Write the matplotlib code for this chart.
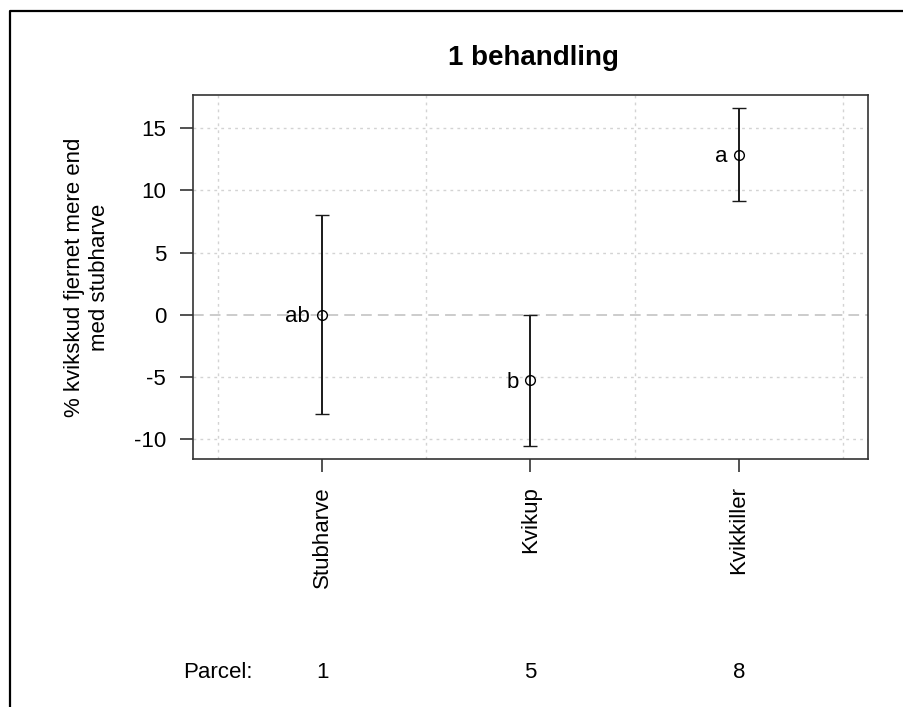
import matplotlib.pyplot as plt
from matplotlib.lines import Line2D
import matplotlib.transforms as mtransforms

plt.rcParams['font.family'] = ['Liberation Sans', 'DejaVu Sans']

# data
behandlinger = ['Stubharve', 'Kvikup', 'Kvikkiller']
middel = [0.0, -5.3, 12.9]
fejl = [8.0, 5.28, 3.75]
bogstaver = ['ab', 'b', 'a']
parceller = ['1', '5', '8']
y_ticks = [-10, -5, 0, 5, 10, 15]

W, H = 904, 707
fig = plt.figure(figsize=(W / 100, H / 100), dpi=100)
ax = fig.add_axes([193 / W, 1 - 459 / H, (868 - 193) / W, (459 - 95) / H])

x = list(range(1, len(behandlinger) + 1))

# grid like R's grid(): dotted light gray
for yv in y_ticks:
    if yv != 0:
        ax.axhline(yv, color='#d3d3d3', lw=1, linestyle=(0, (2, 3)), zorder=0)
for xv in [0.5, 1.5, 2.5, 3.5]:
    ax.axvline(xv, color='#d3d3d3', lw=1, linestyle=(0, (2, 3)), zorder=0)
ax.axhline(0, color='#bebebe', lw=1.1, linestyle=(0, (7, 4)), zorder=0)

ax.errorbar(x, middel, yerr=fejl, fmt='o', mfc='none', mec='black', ms=7, mew=1,
            ecolor='#1a1a1a', elinewidth=1.4, capsize=5, capthick=1.4, zorder=3)

for xi, yi, b in zip(x, middel, bogstaver):
    ax.annotate(b, (xi, yi), xytext=(-8.5, -1.5), textcoords='offset points',
                ha='right', va='center', fontsize=16)

ax.set_xlim(0.38, 3.62)
ax.set_ylim(-11.65, 17.7)
ax.set_yticks(y_ticks)
ax.set_yticklabels([str(v) for v in y_ticks])
ax.set_xticks(x)
ax.set_xticklabels(behandlinger, rotation=90)
ax.tick_params(axis='both', labelsize=16, length=9.4, width=1.2, color='#333333', pad=10)
for s in ax.spines.values():
    s.set_color('#333333')
    s.set_linewidth(1.2)

fig.text(533 / W, 1 - 58 / H, '1 behandling', ha='center', va='center',
         fontsize=20, fontweight='bold')
fig.text(87 / W, 1 - 277 / H, '% kvikskud fjernet mere end\nmed stubharve',
         rotation=90, ha='center', va='center', multialignment='center', fontsize=16)

# parcel row under the labels
trans = mtransforms.blended_transform_factory(ax.transData, fig.transFigure)
fig.text(218 / W, 1 - 673 / H, 'Parcel:', ha='center', va='center', fontsize=16)
for xi, p in zip(x, parceller):
    ax.text(xi, 1 - 673 / H, p, transform=trans, ha='center', va='center', fontsize=16)

# outer box of the device
fig.add_artist(Line2D([10 / W, 10 / W, 1.0], [0.0, 1 - 11 / H, 1 - 11 / H],
                      transform=fig.transFigure, color='black', lw=1.6))

fig.savefig('out.png', dpi=100)
